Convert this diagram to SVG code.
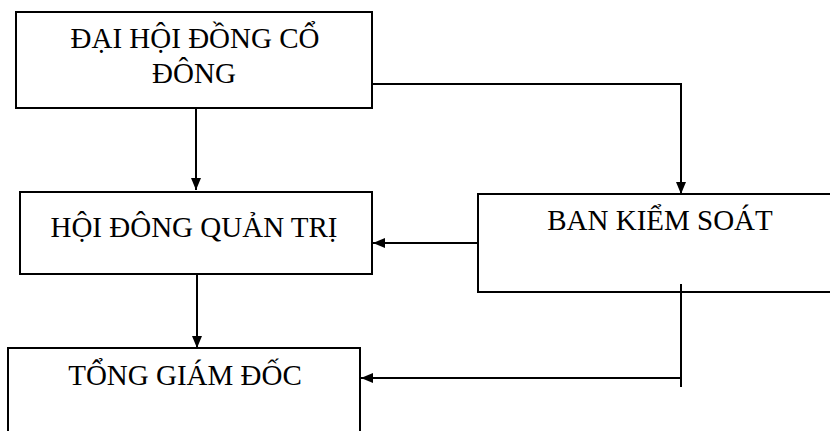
<svg xmlns="http://www.w3.org/2000/svg" width="830" height="431" viewBox="0 0 830 431">
<style>
.box{fill:#fff;stroke:#000;stroke-width:2}
.lbl{font-family:"Liberation Serif","Times New Roman",serif;font-size:29px;fill:#000;text-anchor:middle}
.con{fill:none;stroke:#000;stroke-width:2}
</style>
<defs>
<marker id="ah" viewBox="0 0 12 10" refX="12" refY="5" markerWidth="12" markerHeight="10" markerUnits="userSpaceOnUse" orient="auto">
<path d="M0,0 L12,5 L0,10 Z" fill="#000"/>
</marker>
</defs>
<g id="n1"><rect class="box" x="16" y="12" width="356" height="96"/>
<text class="lbl" x="195" y="48">ĐẠI HỘI ĐỒNG CỔ</text>
<text class="lbl" x="194" y="83">ĐÔNG</text></g>
<g id="n2"><rect class="box" x="20" y="192" width="352" height="82"/>
<text class="lbl" x="194" y="237">HỘI ĐÔNG QUẢN TRỊ</text></g>
<g id="n3"><rect class="box" x="478" y="194" width="380" height="98"/>
<text class="lbl" x="660" y="230">BAN KIỂM SOÁT</text></g>
<g id="n4"><rect class="box" x="8" y="348" width="352" height="100"/>
<text class="lbl" x="185" y="385">TỔNG GIÁM ĐỐC</text></g>
<g id="connectors">
<path class="con" d="M196,108 V190" marker-end="url(#ah)"/>
<path class="con" d="M372,84 H681 V194" marker-end="url(#ah)"/>
<path class="con" d="M478,243 H373" marker-end="url(#ah)"/>
<path class="con" d="M197,274 V348" marker-end="url(#ah)"/>
<path class="con" d="M681,284 V387"/>
<path class="con" d="M681,378 H361" marker-end="url(#ah)"/>
</g>
</svg>
